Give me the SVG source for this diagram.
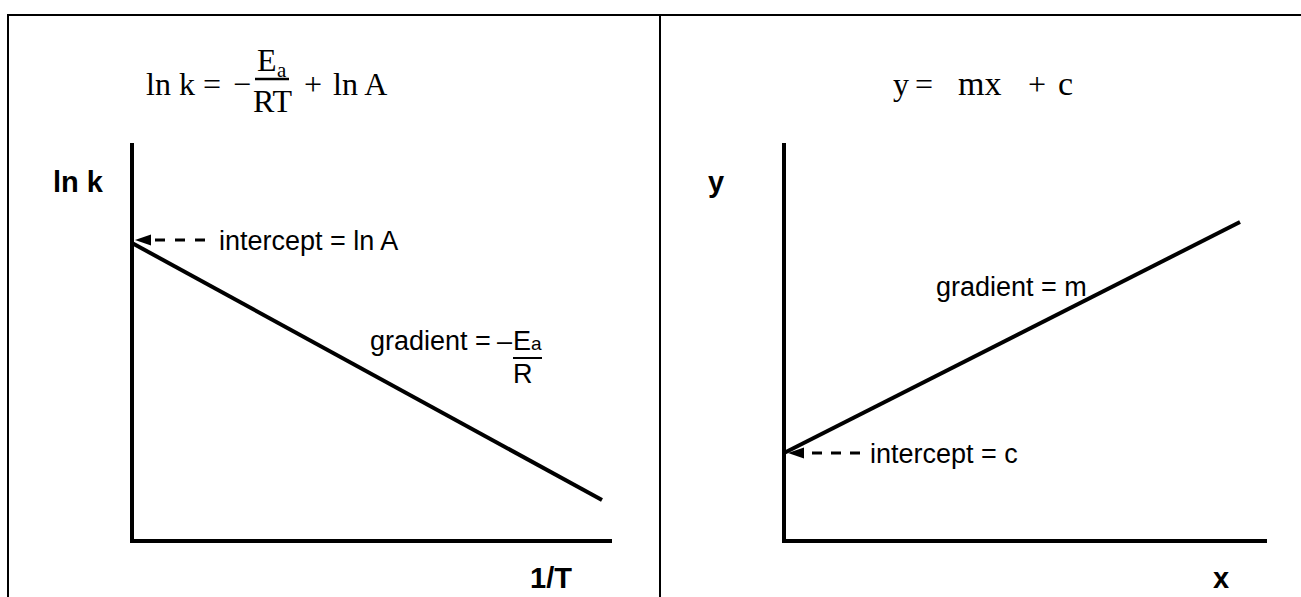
<svg xmlns="http://www.w3.org/2000/svg" width="1301" height="597" viewBox="0 0 1301 597">
<style>
.frame{stroke:#000;stroke-width:2;fill:none}
.axis{stroke:#000;stroke-width:4;fill:none}
.plot{stroke:#000;stroke-width:4;fill:none}
.dash{stroke:#000;stroke-width:3;stroke-dasharray:10,9;fill:none}
.lbl{font-family:"Liberation Sans",Arial,sans-serif;font-size:27px;fill:#000}
.ax{font-family:"Liberation Sans",Arial,sans-serif;font-size:29px;font-weight:bold;fill:#000}
.eq{font-family:"Liberation Serif","Times New Roman",serif;font-size:32px;fill:#000}
</style>
<g id="frame">
<path class="frame" d="M8,597 V15 H1301 M660,15 V597"/>
</g>
<g id="eq-left">
<text class="eq" x="146" y="95">ln k =</text>
<text class="eq" x="233" y="95">−</text>
<text class="eq" x="257" y="71">E</text>
<text class="eq" x="277" y="77" style="font-size:21px">a</text>
<line x1="255" y1="79" x2="289" y2="79" stroke="#000" stroke-width="2.5"/>
<text class="eq" x="253" y="112">RT</text>
<text class="eq" x="304" y="95">+</text>
<text class="eq" x="333" y="95">ln A</text>
</g>
<g id="eq-right">
<text class="eq" x="893" y="95">y</text>
<text class="eq" x="915" y="95">=</text>
<text class="eq" x="958" y="95" style="font-size:34px">mx</text>
<text class="eq" x="1028" y="95">+</text>
<text class="eq" x="1058" y="95" style="font-size:34px">c</text>
</g>
<g id="axes-left">
<path class="axis" d="M132,143 V541 H612"/>
<text class="ax" x="53" y="192">ln k</text>
<text class="ax" x="530" y="588">1/T</text>
</g>
<g id="axes-right">
<path class="axis" d="M784,143 V541 H1267"/>
<text class="ax" x="708" y="192">y</text>
<text class="ax" x="1213" y="588">x</text>
</g>
<g id="connectors">
<line class="plot" x1="132" y1="243" x2="602" y2="500"/>
<line class="plot" x1="784" y1="453" x2="1240" y2="222"/>
<line class="dash" x1="155" y1="240" x2="205" y2="240" style="stroke-dasharray:10,10"/>
<polygon points="135,240 151,234.5 151,245.5" fill="#000"/>
<line class="dash" x1="812" y1="453" x2="860" y2="453"/>
<polygon points="788,453 804,447.5 804,458.5" fill="#000"/>
</g>
<g id="label-intercept-lnA">
<text class="lbl" x="219" y="250">intercept = ln A</text>
</g>
<g id="label-gradient-left">
<text class="lbl" x="370" y="350">gradient =</text>
<text class="lbl" x="497" y="350">–</text>
<text class="lbl" x="513" y="350">E<tspan style="font-size:19px">a</tspan></text>
<line x1="513" y1="358" x2="542" y2="358" stroke="#000" stroke-width="2"/>
<text class="lbl" x="513" y="383">R</text>
</g>
<g id="label-gradient-m">
<text class="lbl" x="936" y="296">gradient = m</text>
</g>
<g id="label-intercept-c">
<text class="lbl" x="870" y="463">intercept = c</text>
</g>
</svg>
